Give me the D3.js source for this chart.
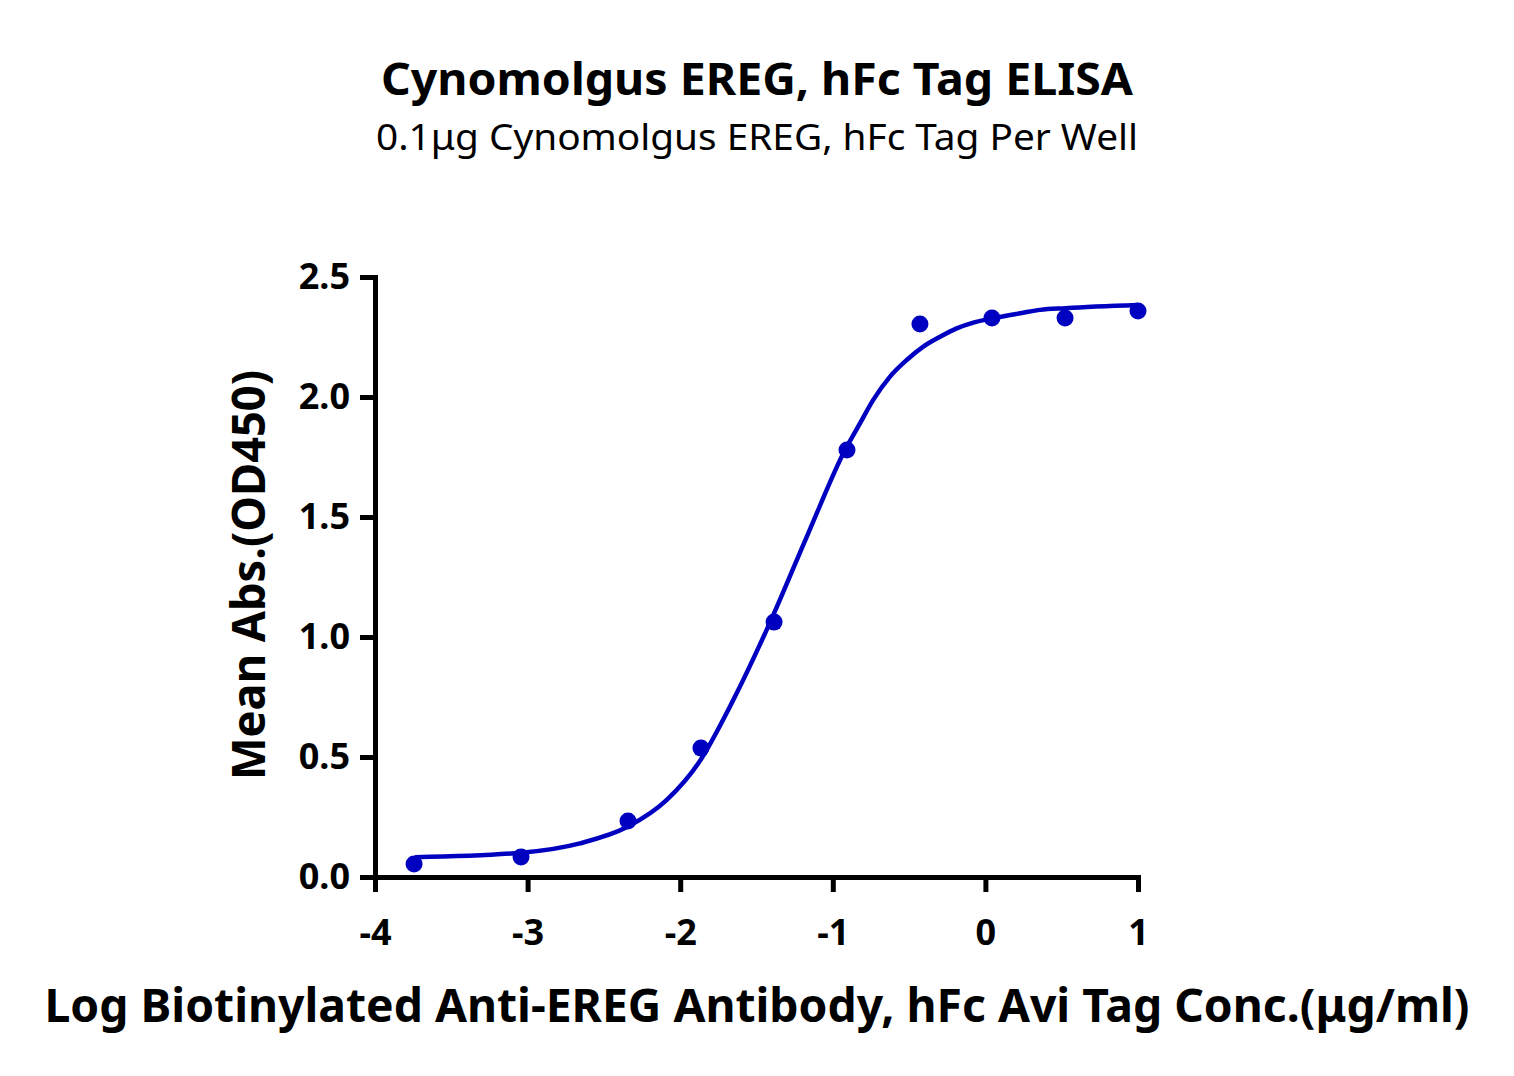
<!DOCTYPE html>
<html>
<head>
<meta charset="utf-8">
<script src="https://cdn.jsdelivr.net/npm/d3@7"></script>
<style>
  body { margin: 0; background: #fff; }
  text { font-family: "Noto Sans", "Open Sans", sans-serif; }
</style>
</head>
<body>
<div id="chart"></div>
<script>
// measured points (log conc vs mean OD450)
const logConc = [-3.744, -3.043, -2.342, -1.864, -1.385, -0.907, -0.429, 0.043, 0.522, 1.0];
const meanAbs = [0.054, 0.083, 0.233, 0.537, 1.062, 1.779, 2.304, 2.329, 2.329, 2.358];

// fitted curve
const fitX = [-3.738, -3.043, -2.657, -2.342, -2.088, -1.881, -1.652, -1.412, -1.161, -0.920, -0.822, -0.735, -0.625, -0.516, -0.407, -0.297, -0.188, -0.079, 0.048, 0.248, 0.358, 0.526, 1.0];
const fitY = [0.082, 0.101, 0.140, 0.210, 0.321, 0.474, 0.738, 1.060, 1.432, 1.779, 1.890, 1.988, 2.085, 2.154, 2.210, 2.251, 2.286, 2.310, 2.328, 2.351, 2.363, 2.370, 2.383];

const xTicks = [-4, -3, -2, -1, 0, 1];
const yTicks = [0, 0.5, 1.0, 1.5, 2.0, 2.5];

const W = 1514, H = 1076;
const blue = "#0000c0";

const svg = d3.select("#chart").append("svg")
    .attr("width", W)
    .attr("height", H);

const x = d3.scaleLinear().domain([-4, 1]).range([375, 1138]);
const y = d3.scaleLinear().domain([0, 2.5]).range([877, 277]);

// titles
svg.append("text")
    .attr("x", 757).attr("y", 95)
    .attr("text-anchor", "middle")
    .attr("font-size", 45).attr("font-weight", "bold")
    .attr("textLength", 752).attr("lengthAdjust", "spacingAndGlyphs")
    .text("Cynomolgus EREG, hFc Tag ELISA");

svg.append("text")
    .attr("x", 757).attr("y", 150)
    .attr("text-anchor", "middle")
    .attr("font-size", 36)
    .attr("textLength", 762).attr("lengthAdjust", "spacingAndGlyphs")
    .text("0.1μg Cynomolgus EREG, hFc Tag Per Well");

// axes
const xAxis = svg.append("g")
    .attr("transform", `translate(0,${y(0)})`)
    .call(d3.axisBottom(x).tickValues(xTicks).tickSize(15).tickSizeOuter(0).tickPadding(27)
        .tickFormat(d => String(d)));

const yAxis = svg.append("g")
    .attr("transform", `translate(${x(-4)},0)`)
    .call(d3.axisLeft(y).tickValues(yTicks).tickSize(15).tickSizeOuter(0).tickPadding(10)
        .tickFormat(d3.format(".1f")));

[xAxis, yAxis].forEach(a => {
    a.select(".domain").attr("stroke", "#000").attr("stroke-width", 5).attr("stroke-linecap", "square");
    a.selectAll(".tick line").attr("stroke", "#000").attr("stroke-width", 5);
    a.selectAll(".tick text")
        .attr("fill", "#000")
        .attr("font-size", 36)
        .attr("font-weight", "bold")
        .attr("font-family", "'Noto Sans', sans-serif");
});
xAxis.selectAll(".tick text").attr("dy", "0.71em");

// axis titles
svg.append("text")
    .attr("x", 757).attr("y", 1022)
    .attr("text-anchor", "middle")
    .attr("font-size", 47).attr("font-weight", "bold")
    .attr("textLength", 1425).attr("lengthAdjust", "spacingAndGlyphs")
    .text("Log Biotinylated Anti-EREG Antibody, hFc Avi Tag Conc.(μg/ml)");

svg.append("text")
    .attr("transform", "translate(265,575) rotate(-90)")
    .attr("text-anchor", "middle")
    .attr("font-size", 47).attr("font-weight", "bold")
    .attr("textLength", 410).attr("lengthAdjust", "spacingAndGlyphs")
    .text("Mean Abs.(OD450)");

// fitted curve
const line = d3.line()
    .x((d, i) => x(fitX[i]))
    .y(d => y(d))
    .curve(d3.curveMonotoneX);

svg.append("path")
    .datum(fitY)
    .attr("d", line)
    .attr("fill", "none")
    .attr("stroke", blue)
    .attr("stroke-width", 4.5);

// data points
svg.append("g")
    .selectAll("circle")
    .data(meanAbs)
    .enter().append("circle")
    .attr("cx", (d, i) => x(logConc[i]))
    .attr("cy", d => y(d))
    .attr("r", 8.5)
    .attr("fill", blue);
</script>
</body>
</html>
